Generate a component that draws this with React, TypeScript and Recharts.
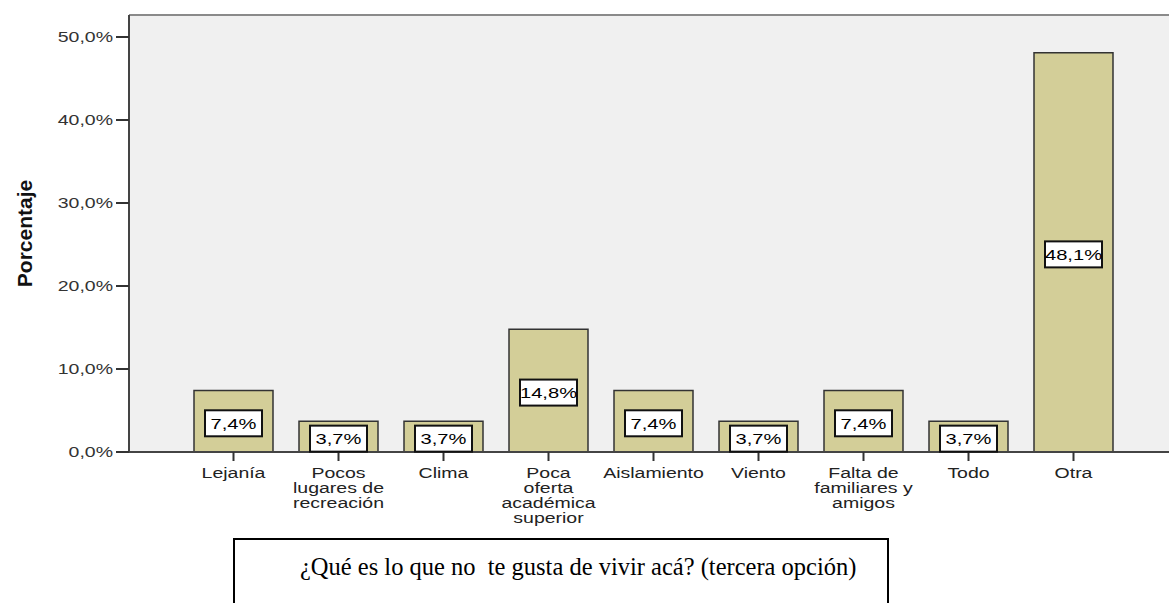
import React from 'react';
import { BarChart, Bar, XAxis, YAxis, CartesianGrid, ReferenceLine, LabelList, Label } from 'recharts';

const categories = [
    'Lejanía',
    'Pocos\nlugares de\nrecreación',
    'Clima',
    'Poca\noferta\nacadémica\nsuperior',
    'Aislamiento',
    'Viento',
    'Falta de\nfamiliares y\namigos',
    'Todo',
    'Otra',
];
const percentages = [7.4, 3.7, 3.7, 14.8, 7.4, 3.7, 7.4, 3.7, 48.1];
const yTicks = [0, 10, 20, 30, 40, 50];
const Y_MAX = 52.65;

const title = '¿Qué es lo que no  te gusta de vivir acá? (tercera opción)';

const chartData = categories.map((name, i) => ({ name, value: percentages[i] }));

const pct = (v: number) => v.toFixed(1).replace('.', ',') + '%';

const SANS = '"Liberation Sans", Arial, sans-serif';
const STRETCH = 1.3;

const XTick: React.FC<any> = ({ x, y, payload }) => {
    const lines = String(payload.value).split('\n');
    return (
        <g transform={`translate(${x},${y}) scale(${STRETCH},1)`}>
            {lines.map((line, i) => (
                <text key={i} x={0} y={15 + i * 15} textAnchor="middle" fontSize={15} fontFamily={SANS} fill="#222">
                    {line}
                </text>
            ))}
        </g>
    );
};

const YTick: React.FC<any> = ({ x, y, payload }) => (
    <g transform={`translate(${x},${y + 5}) scale(${STRETCH},1)`}>
        <text x={0} y={0} textAnchor="end" fontSize={15} fontFamily={SANS} fill="#333">
            {pct(payload.value)}
        </text>
    </g>
);

const ValueBox: React.FC<any> = ({ x, y, width, height, value }) => {
    const cx = x + width / 2;
    const cy = y + height / 2 + 2;
    return (
        <g>
            <rect x={cx - 28.5} y={cy - 13} width={57} height={26} fill="#fff" stroke="#111" strokeWidth={2} />
            <g transform={`translate(${cx},${cy + 5.5}) scale(${STRETCH},1)`}>
                <text x={0} y={0} textAnchor="middle" fontSize={15.5} fontFamily={SANS} fill="#000">
                    {pct(value)}
                </text>
            </g>
        </g>
    );
};

const AxisTitle: React.FC<any> = ({ viewBox }) => {
    const cx = viewBox.x + 24;
    const cy = viewBox.y + viewBox.height / 2;
    return (
        <text
            x={cx}
            y={cy}
            transform={`rotate(-90, ${cx}, ${cy})`}
            textAnchor="middle"
            dominantBaseline="central"
            fontSize={21}
            fontWeight="bold"
            fontFamily={SANS}
            fill="#111"
        >
            Porcentaje
        </text>
    );
};

const App: React.FC = () => {
    return (
        <div style={{ position: 'absolute', left: 0, top: 0, width: 1169, height: 603, overflow: 'hidden', background: '#fff' }}>
            <BarChart width={1169} height={603} data={chartData} margin={{ top: 15, right: 0, left: 0, bottom: 51 }}>
                <CartesianGrid horizontal={false} vertical={false} stroke="none" fill="#F0F0F0" />
                <ReferenceLine y={Y_MAX} stroke="#8a8a8a" strokeWidth={2} />
                <XAxis
                    dataKey="name"
                    height={100}
                    interval={0}
                    padding={{ left: 52, right: 43 }}
                    tick={<XTick />}
                    tickSize={9}
                    tickLine={{ stroke: '#333', strokeWidth: 2 }}
                    axisLine={{ stroke: '#444', strokeWidth: 2 }}
                />
                <YAxis
                    width={129}
                    domain={[0, Y_MAX]}
                    ticks={yTicks}
                    allowDataOverflow
                    tick={<YTick />}
                    tickSize={13}
                    tickMargin={3}
                    tickLine={{ stroke: '#333', strokeWidth: 2 }}
                    axisLine={{ stroke: '#444', strokeWidth: 2 }}
                >
                    <Label content={<AxisTitle />} />
                </YAxis>
                <Bar dataKey="value" barSize={79} fill="#D3CE98" stroke="#333" strokeWidth={1.5} isAnimationActive={false}>
                    <LabelList dataKey="value" content={<ValueBox />} />
                </Bar>
            </BarChart>
            <div
                style={{
                    position: 'absolute',
                    left: 233,
                    top: 538,
                    width: 656,
                    height: 200,
                    boxSizing: 'border-box',
                    border: '2px solid #000',
                }}
            />
            <div
                style={{
                    position: 'absolute',
                    left: 300,
                    top: 553,
                    fontFamily: '"Liberation Serif", "Times New Roman", serif',
                    fontSize: 24.5,
                    lineHeight: '28px',
                    whiteSpace: 'pre',
                    color: '#000',
                }}
            >
                {title}
            </div>
        </div>
    );
};

export default App;
